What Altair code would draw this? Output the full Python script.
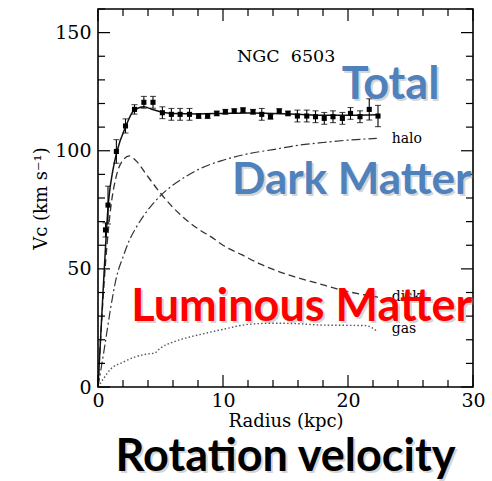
import altair as alt
import pandas as pd

# ---------------- data ----------------
# observed rotation curve points (radius kpc, velocity km/s, error)
obs_r = [0.6, 0.8, 1.47, 2.2, 2.92, 3.67, 4.4, 5.15, 5.87, 6.57, 7.32, 8.05, 8.77,
         9.5, 10.19, 10.9, 11.6, 12.4, 13.1, 13.8, 14.5, 15.2, 15.95, 16.7, 17.4,
         18.1, 18.8, 19.55, 20.2, 20.96, 21.7, 22.4]
obs_v = [66.5, 77.0, 99.7, 110.5, 117.5, 120.5, 120.5, 116.1, 115.4, 115.4, 115.4,
         114.7, 114.7, 115.8, 116.5, 116.8, 117.2, 116.5, 115.4, 114.4, 116.8, 115.8,
         114.7, 114.7, 114.4, 113.7, 114.4, 113.7, 115.8, 114.4, 117.5, 114.7]
obs_e = [3.0, 8.0, 5.0, 3.0, 2.0, 2.5, 2.5, 2.5, 2.5, 2.5, 2.5, 1.0, 1.0, 1.0, 1.0,
         1.0, 1.0, 1.0, 2.5, 1.0, 1.0, 1.0, 2.5, 2.5, 2.5, 2.5, 2.5, 2.5, 2.5, 2.5,
         4.5, 4.5]

# total model curve
tot_r = [0, 0.4, 0.85, 1.2, 1.53, 2.2, 2.86, 3.67, 4.35, 5.15, 6, 8, 10, 12, 14, 16,
         18, 20, 22.4]
tot_v = [0, 40, 79, 92, 100, 110, 117, 118.6, 117.5, 116.3, 115.8, 115.6, 115.8,
         116, 115.8, 115.4, 115, 115, 115.2]

# disk (dashed)
disk_r = [0, 0.5, 1, 1.5, 2, 2.5, 3, 4, 5, 6, 7, 8, 9.2, 10, 11.5, 13, 15.5, 17.5,
          19.5, 22.4]
disk_v = [0, 45, 75, 90, 96, 97.8, 96, 89, 82, 76, 71, 67, 63, 60, 56, 52, 47, 44,
          41, 38]

# halo (dash-dot)
halo_r = [0, 0.5, 1, 1.5, 2, 2.5, 3, 4, 5, 6, 7, 8, 10, 12, 14, 16, 18, 20, 22.3]
halo_v = [0, 16, 33, 47, 55, 62, 67, 75, 81, 85.5, 89, 92, 96, 98.7, 100.5, 102.3,
          103.5, 104.5, 105.2]

# gas (dotted)
gas_r = [0, 0.5, 1, 2, 3, 4, 4.5, 5, 6, 7, 8, 10, 12, 14, 16, 18, 20, 21.4, 22.3]
gas_v = [0, 4, 7.5, 10.5, 12.8, 14, 14.3, 16.5, 19, 20.7, 22, 24.4, 26.5, 27, 26.8,
         26.2, 26.1, 26, 23.7]

# tick values
x_ticks = list(range(0, 31, 2))
x_major = [0, 10, 20, 30]
y_ticks = list(range(0, 161, 10))
y_major = [0, 50, 100, 150]

# annotations (data coordinates)
curve_lbl = ["halo", "disk", "gas"]
curve_lbl_r = [23.5, 23.5, 23.5]
curve_lbl_v = [103.1, 36.5, 22.9]

big_text = ["Total", "Dark Matter", "Luminous Matter", "Rotation velocity"]
big_r = [23.4, 20.3, 16.3, 15.0]
big_v = [121.8, 81.7, 27.8, -35.6]
big_color = ["#4F81BD", "#4F81BD", "#FF0000", "#000000"]

# ---------------- chart ----------------
W, H = 375, 378
SERIF = "DejaVu Serif"
SANS = "Lato"

xscale = alt.Scale(domain=[0, 30], nice=False, zero=False)
yscale = alt.Scale(domain=[0, 160], nice=False, zero=False)

xaxis = alt.Axis(values=x_major, title="Radius (kpc)", ticks=False, tickSize=0,
                 domain=False, grid=False, labelFont=SERIF, labelFontSize=19,
                 labelColor="black", labelPadding=4, titleFont=SERIF,
                 titleFontSize=18, titleFontWeight="normal", titleColor="black",
                 titlePadding=2, labelFlush=False)
yaxis = alt.Axis(values=y_major, title="V\u1d04 (km s\u207b\u00b9)", ticks=False,
                 tickSize=0, domain=False, grid=False, labelFont=SERIF,
                 labelFontSize=19, labelColor="black", labelPadding=7,
                 titleFont=SERIF, titleFontSize=18, titleFontWeight="normal",
                 titleColor="black", titlePadding=4, labelFlush=False)


def X(field):
    return alt.X(field, type="quantitative", scale=xscale, axis=xaxis)


def Y(field):
    return alt.Y(field, type="quantitative", scale=yscale, axis=yaxis)


obs = pd.DataFrame({"r": obs_r, "v": obs_v, "e": obs_e})
obs["lo"] = obs["v"] - obs["e"]
obs["hi"] = obs["v"] + obs["e"]

layers = []

# model curves
def curve(rs, vs, **mk):
    df = pd.DataFrame({"r": rs, "v": vs})
    return alt.Chart(df).mark_line(interpolate="monotone", **mk).encode(
        x=X("r"), y=Y("v"))

layers.append(curve(gas_r, gas_v, color="#555555", strokeWidth=1.4,
                    strokeDash=[1.5, 2.2]))
layers.append(curve(halo_r, halo_v, color="#333333", strokeWidth=1.2,
                    strokeDash=[9, 3, 2, 3]))
layers.append(curve(disk_r, disk_v, color="#333333", strokeWidth=1.3,
                    strokeDash=[7, 4]))
layers.append(curve(tot_r, tot_v, color="#111111", strokeWidth=1.5))

# error bars and points
base_obs = alt.Chart(obs)
layers.append(base_obs.mark_rule(color="black", strokeWidth=1.1).encode(
    x=X("r"), y=Y("lo"), y2="hi"))
layers.append(base_obs.mark_tick(color="black", orient="horizontal", size=6,
                                 thickness=1.1).encode(x=X("r"), y=Y("lo")))
layers.append(base_obs.mark_tick(color="black", orient="horizontal", size=6,
                                 thickness=1.1).encode(x=X("r"), y=Y("hi")))
layers.append(base_obs.mark_point(filled=True, color="black", size=26,
                                  opacity=1, shape="square").encode(
    x=X("r"), y=Y("v")))

# inward ticks on all four sides
xt = pd.DataFrame({"t": x_ticks})
xt["major"] = xt["t"].isin(x_major)
yt = pd.DataFrame({"t": y_ticks})
yt["major"] = yt["t"].isin(y_major)
for is_major, ln in [(False, 7), (True, 12)]:
    xd = xt[xt["major"] == is_major]
    yd = yt[yt["major"] == is_major]
    layers.append(alt.Chart(xd).mark_rule(color="black", strokeWidth=1.2).encode(
        x=X("t"), y=alt.value(H), y2=alt.value(H - ln)))
    layers.append(alt.Chart(xd).mark_rule(color="black", strokeWidth=1.2).encode(
        x=X("t"), y=alt.value(0), y2=alt.value(ln)))
    layers.append(alt.Chart(yd).mark_rule(color="black", strokeWidth=1.2).encode(
        y=Y("t"), x=alt.value(0), x2=alt.value(ln)))
    layers.append(alt.Chart(yd).mark_rule(color="black", strokeWidth=1.2).encode(
        y=Y("t"), x=alt.value(W), x2=alt.value(W - ln)))

# small serif labels
lbl = pd.DataFrame({"txt": curve_lbl, "r": curve_lbl_r, "v": curve_lbl_v})
layers.append(alt.Chart(lbl).mark_text(font=SERIF, fontSize=14, color="black",
                                       align="left", baseline="alphabetic").encode(
    x=X("r"), y=Y("v"), text="txt:N"))

ngc = pd.DataFrame({"txt": ["NGC\u00a0\u00a06503"], "r": [15.05], "v": [137.6]})
layers.append(alt.Chart(ngc).mark_text(font=SERIF, fontSize=17.5, color="black",
                                       align="center", baseline="alphabetic").encode(
    x=X("r"), y=Y("v"), text="txt:N"))

# big overlay texts with soft shadow
big = pd.DataFrame({"txt": big_text, "r": big_r, "v": big_v, "c": big_color})
sizes = [45, 44, 45, 45]
for i in range(len(big)):
    row = big.iloc[[i]]
    layers.append(alt.Chart(row).mark_text(font=SANS, fontWeight="bold",
                                           fontSize=sizes[i], color="#888888",
                                           opacity=0.35, dx=2, dy=2,
                                           align="center",
                                           baseline="alphabetic").encode(
        x=X("r"), y=Y("v"), text="txt:N"))
    layers.append(alt.Chart(row).mark_text(font=SANS, fontWeight="bold",
                                           fontSize=sizes[i], color=big_color[i],
                                           align="center",
                                           baseline="alphabetic").encode(
        x=X("r"), y=Y("v"), text="txt:N"))

chart = alt.layer(*layers).properties(
    width=W, height=H,
    autosize=alt.AutoSizeParams(type="none"),
    padding={"left": 98, "top": 9, "right": 19, "bottom": 94},
    background="white",
).configure_view(stroke="black", strokeWidth=1.6)

chart.save("out.html", embed_options={"renderer": "svg", "actions": False})
